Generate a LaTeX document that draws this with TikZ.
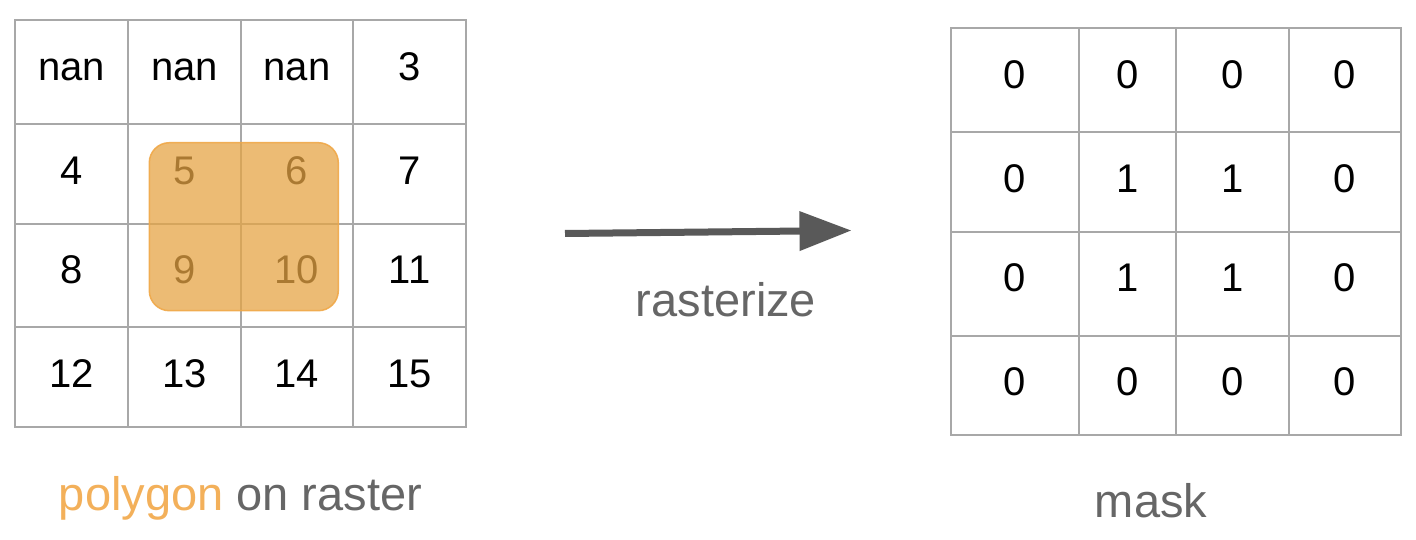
\documentclass[tikz,border=0pt]{standalone}
\usepackage{fontspec}
\setmainfont{Liberation Sans}
\usetikzlibrary{arrows.meta}
\definecolor{gridgray}{HTML}{A8A8A8}
\definecolor{polyfill}{HTML}{E6A444}
\definecolor{polyline}{HTML}{F0A848}
\definecolor{labelgray}{HTML}{666666}
\definecolor{polylabel}{HTML}{F3B05A}
\definecolor{arrowgray}{HTML}{595959}
\begin{document}
\begin{tikzpicture}[x=1pt,y=-1pt,
  gridline/.style={draw=gridgray,line width=2pt,line cap=rect},
  num/.style={anchor=base,inner sep=0pt,font=\fontsize{40}{48}\selectfont},
  lbl/.style={anchor=base,inner sep=0pt,font=\fontsize{47}{56}\selectfont,text=labelgray},
  poly/.style={draw=polyline,draw opacity=0.9,fill=polyfill,fill opacity=0.74,line width=1.5pt,rounded corners=20pt},
  conn/.style={draw=arrowgray,line width=7pt,-{Triangle[length=52pt,width=38pt]}}]
\useasboundingbox (0,0) rectangle (1416,540);
\fill[white] (0,0) rectangle (1416,540);
% left grid
\foreach \x in {15.3,128.3,240.7,353.3,465.7} \draw[gridline] (\x,20) -- (\x,427.3);
\foreach \y in {20,124,224,327.3,427.3} \draw[gridline] (15.3,\y) -- (465.7,\y);
\node[num] (l11) at (71.8,80.7) {nan};
\node[num] (l12) at (184.5,80.7) {nan};
\node[num] (l13) at (297,80.7) {nan};
\node[num] (l14) at (409.5,80.7) {3};
\node[num] (l21) at (71.8,185) {4};
\node[num] (l22) at (184.5,185) {5};
\node[num] (l23) at (297,185) {6};
\node[num] (l24) at (409.5,185) {7};
\node[num] (l31) at (71.8,283.3) {8};
\node[num] (l32) at (184.5,283.3) {9};
\node[num] (l33) at (297,283.3) {10};
\node[num] (l34) at (409.5,283.3) {11};
\node[num] (l41) at (71.8,387.3) {12};
\node[num] (l42) at (184.5,387.3) {13};
\node[num] (l43) at (297,387.3) {14};
\node[num] (l44) at (409.5,387.3) {15};
% polygon overlay
\path[poly] (149.3,142.7) rectangle (338.3,310.7);
% right grid
\foreach \x in {950.7,1079,1176,1289,1401} \draw[gridline] (\x,28.3) -- (\x,435);
\foreach \y in {28.3,132.3,231.7,335.7,435} \draw[gridline] (950.7,\y) -- (1401,\y);
\node[num] (r11) at (1014.8,88.8) {0};
\node[num] (r12) at (1127.5,88.8) {0};
\node[num] (r13) at (1232.5,88.8) {0};
\node[num] (r14) at (1345,88.8) {0};
\node[num] (r21) at (1014.8,192.3) {0};
\node[num] (r22) at (1127.5,192.3) {1};
\node[num] (r23) at (1232.5,192.3) {1};
\node[num] (r24) at (1345,192.3) {0};
\node[num] (r31) at (1014.8,291.3) {0};
\node[num] (r32) at (1127.5,291.3) {1};
\node[num] (r33) at (1232.5,291.3) {1};
\node[num] (r34) at (1345,291.3) {0};
\node[num] (r41) at (1014.8,395.5) {0};
\node[num] (r42) at (1127.5,395.5) {0};
\node[num] (r43) at (1232.5,395.5) {0};
\node[num] (r44) at (1345,395.5) {0};
% arrow
\coordinate (as) at (565,233.5);
\coordinate (ae) at (851.5,230.5);
\draw[conn] (as) -- (ae);
% labels
\node[lbl] (rast) at (726,316.7) {rasterize};
\node[lbl] (plab) at (240.5,510.7) {\textcolor{polylabel}{polygon} on raster};
\node[lbl] (mlab) at (1151,517.3) {mask};
\end{tikzpicture}
\end{document}
